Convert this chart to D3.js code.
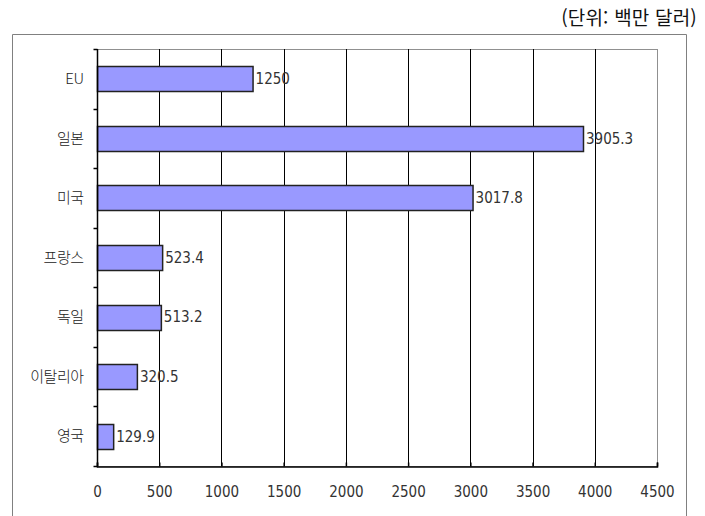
<!DOCTYPE html>
<html lang="ko">
<head>
<meta charset="UTF-8">
<title>국가별 금액</title>
<script src="https://cdn.jsdelivr.net/npm/d3@7"></script>
<style>
    body { margin: 0; background: #fff; }
    svg text { font-family: "Noto Sans CJK KR", "Noto Sans", sans-serif; fill: #222; }
    .num { font-family: "Liberation Sans Narrow", "DejaVu Sans Condensed", sans-serif; font-size: 15px; fill: #333; }
    .cat { font-size: 15px; letter-spacing: -0.5px; font-weight: 300; fill: #222; }
</style>
</head>
<body>
<svg id="chart" width="705" height="516"></svg>
<script>
    // data
    var countries = ["EU", "일본", "미국", "프랑스", "독일", "이탈리아", "영국"];
    var amounts = [1250, 3905.3, 3017.8, 523.4, 513.2, 320.5, 129.9];
    var xTicks = [0, 500, 1000, 1500, 2000, 2500, 3000, 3500, 4000, 4500];

    var svg = d3.select("#chart");

    // plot box (note: "top" is taken by window.top, so use m*)
    var mLeft = 97, mRight = 657, mTop = 49, mBottom = 466;

    var x = d3.scaleLinear().domain([0, 4500]).range([mLeft, mRight]);
    var y = d3.scaleBand().domain(countries).range([mTop, mBottom]).paddingInner(0.58).paddingOuter(0.29);

    // outer frame
    svg.append("path")
        .attr("d", "M12.5,516 V34.5 H686.5 V516")
        .attr("fill", "none")
        .attr("stroke", "#808080")
        .attr("stroke-width", 1);

    // unit note
    svg.append("text")
        .attr("x", 697).attr("y", 25)
        .attr("text-anchor", "end")
        .style("font-size", "19px")
        .style("letter-spacing", "0.2px")
        .style("fill", "#111")
        .text("(단위: 백만 달러)");

    // plot border (gray)
    svg.append("rect")
        .attr("x", mLeft + 0.5).attr("y", mTop + 0.5)
        .attr("width", mRight - mLeft).attr("height", mBottom - mTop)
        .attr("fill", "none").attr("stroke", "#909090");

    // vertical gridlines
    svg.append("g").selectAll("line")
        .data(xTicks.slice(1, -1))
        .join("line")
        .attr("x1", d => Math.round(x(d)) + 0.5).attr("x2", d => Math.round(x(d)) + 0.5)
        .attr("y1", mTop).attr("y2", mBottom)
        .attr("stroke", "#000");

    // bars
    svg.append("g").selectAll("rect")
        .data(amounts)
        .join("rect")
        .attr("x", x(0) + 0.5)
        .attr("y", (d, i) => Math.round(y(countries[i])) + 0.5)
        .attr("width", d => x(d) - x(0))
        .attr("height", Math.round(y.bandwidth()))
        .attr("fill", "#9999ff")
        .attr("stroke", "#222")
        .attr("stroke-width", 1.5);

    // value labels
    svg.append("g").selectAll("text")
        .data(amounts)
        .join("text")
        .attr("class", "num")
        .attr("x", d => x(d) + 3)
        .attr("y", (d, i) => y(countries[i]) + y.bandwidth() / 2)
        .attr("dy", "0.36em")
        .text(d => d);

    // x axis
    var xAxis = d3.axisBottom(x).tickValues(xTicks).tickFormat(d3.format("d")).tickSize(-4).tickPadding(20);
    var gx = svg.append("g").attr("transform", "translate(0," + (mBottom + 0.5) + ")").call(xAxis);
    gx.attr("font-family", null).attr("font-size", null);
    gx.select(".domain").attr("stroke", "#000").attr("stroke-width", 1.5);
    gx.selectAll(".tick line").attr("stroke", "#000").attr("stroke-width", 1.5);
    gx.selectAll("text").attr("class", "num");

    // y axis
    var gy = svg.append("g").attr("transform", "translate(" + (mLeft + 0.5) + ",0)");
    gy.append("line").attr("y1", mTop).attr("y2", mBottom).attr("stroke", "#000").attr("stroke-width", 1.5);
    var bounds = d3.range(countries.length + 1).map(i => mTop + i * (mBottom - mTop) / countries.length);
    gy.selectAll("line.tk").data(bounds).join("line").attr("class", "tk")
        .attr("x1", -4).attr("x2", 0)
        .attr("y1", d => Math.round(d) + 0.5).attr("y2", d => Math.round(d) + 0.5)
        .attr("stroke", "#000").attr("stroke-width", 1.5);
    gy.selectAll("text").data(countries).join("text")
        .attr("class", "cat")
        .attr("x", -14)
        .attr("y", d => y(d) + y.bandwidth() / 2)
        .attr("dy", "0.35em")
        .attr("text-anchor", "end")
        .text(d => d);
</script>
</body>
</html>
